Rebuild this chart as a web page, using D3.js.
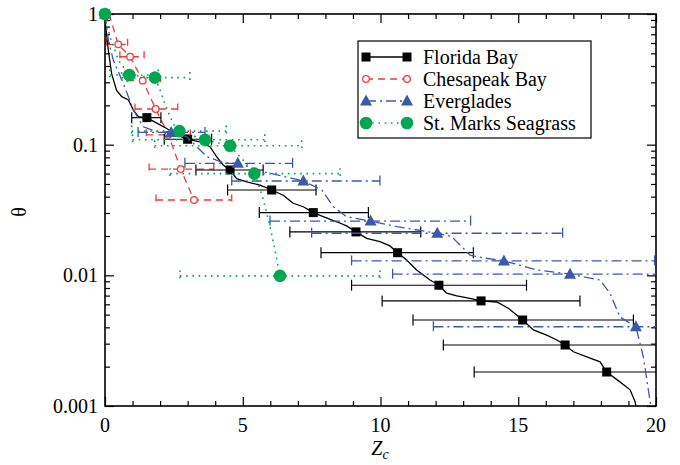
<!DOCTYPE html>
<html>
<head>
<meta charset="utf-8">
<script src="https://cdn.jsdelivr.net/npm/d3@7"></script>
<style>
  body { margin: 0; background: #fff; }
  svg text { font-family: "Liberation Serif", "Times New Roman", Times, serif; }
</style>
</head>
<body>
<svg width="680" height="465" font-family="Liberation Serif, Times New Roman, serif"></svg>
<script>
// axis ticks
const xMajor      = [0, 5, 10, 15, 20],
      yMajor      = [0.001, 0.01, 0.1, 1],
      yMajorText  = ["0.001", "0.01", "0.1", "1"];

// Florida Bay: the curve and the squares with their Zc ranges
const floridaCurveZ     = [0, 0, 0.12, 0.24, 0.42, 0.61, 0.85, 1.03, 1.21, 1.52, 1.88, 2.24, 2.60, 3.00, 3.45, 3.81, 4.05, 4.29, 4.54, 4.78, 5.14, 5.63, 6.05, 6.47, 6.83, 7.20, 7.56, 7.92, 8.41, 8.77, 9.11, 9.50, 9.98, 10.34, 10.62, 10.95, 11.31, 11.80, 12.12, 12.40, 12.77, 13.25, 13.65, 14.22, 14.64, 14.94, 15.16, 15.55, 16.03, 16.40, 16.70, 17.00, 17.49, 17.97, 18.21, 18.69, 19.06, 19.24, 19.27],
      floridaCurveTheta = [1, 0.90, 0.53, 0.35, 0.26, 0.233, 0.22, 0.184, 0.164, 0.161, 0.146, 0.133, 0.119, 0.110, 0.105, 0.0965, 0.081, 0.070, 0.064, 0.055, 0.052, 0.049, 0.045, 0.041, 0.0356, 0.0335, 0.0302, 0.0281, 0.0257, 0.0239, 0.0215, 0.0192, 0.0181, 0.0168, 0.0149, 0.0131, 0.011, 0.0092, 0.0084, 0.0073, 0.00695, 0.00667, 0.00637, 0.00625, 0.0056, 0.00497, 0.00455, 0.00382, 0.00349, 0.0032, 0.00293, 0.0026, 0.00238, 0.00218, 0.00182, 0.00153, 0.00133, 0.00108, 0.001],
      floridaZ          = [1.52, 3.00, 4.54, 6.05, 7.56, 9.11, 10.62, 12.12, 13.65, 15.16, 16.70, 18.21],
      floridaTheta      = [0.161, 0.110, 0.064, 0.045, 0.0302, 0.0215, 0.0149, 0.0084, 0.00637, 0.00455, 0.00293, 0.00182],
      floridaLo         = [0.97, 2.15, 3.30, 4.45, 5.60, 6.71, 7.84, 8.95, 10.06, 11.18, 12.28, 13.40],
      floridaHi         = [2.03, 3.87, 5.74, 7.66, 9.56, 11.46, 13.37, 15.30, 17.24, 19.18, 21.1, 23.0];

// Chesapeak Bay
const chesLineZ     = [0.15, 0.48, 0.91, 1.37, 1.84, 2.30, 2.75, 3.23],
      chesLineTheta = [1, 0.586, 0.471, 0.309, 0.1875, 0.119, 0.065, 0.0377],
      chesZ         = [0.48, 0.91, 1.37, 1.84, 2.30, 2.75, 3.23],
      chesTheta     = [0.586, 0.471, 0.309, 0.1875, 0.119, 0.065, 0.0377],
      chesLo        = [0.06, 0.54, 0.80, 1.09, 1.50, 1.60, 1.85],
      chesHi        = [0.82, 1.42, 2.02, 2.64, 3.10, 3.95, 4.60];

// Everglades
const evergLineZ     = [0, 0.12, 0.30, 0.61, 0.85, 1.03, 1.39, 1.88, 2.40, 2.97, 3.33, 3.69, 4.29, 4.82, 5.75, 7.20, 7.87, 8.29, 8.77, 9.64, 10.59, 12.06, 12.58, 13.25, 13.73, 14.48, 15.67, 16.88, 17.97, 18.33, 18.69, 19.27, 19.54, 19.78, 19.82],
      evergLineTheta = [1, 0.632, 0.445, 0.313, 0.233, 0.184, 0.137, 0.126, 0.124, 0.115, 0.0965, 0.081, 0.0728, 0.072, 0.062, 0.0527, 0.045, 0.0335, 0.0281, 0.026, 0.0236, 0.021, 0.0198, 0.0143, 0.0136, 0.0129, 0.011, 0.0102, 0.0092, 0.0073, 0.0048, 0.00404, 0.00238, 0.00111, 0.001],
      evergZ         = [2.40, 4.82, 7.20, 9.64, 12.06, 14.48, 16.88, 19.27],
      evergTheta     = [0.124, 0.072, 0.0527, 0.026, 0.021, 0.0129, 0.0102, 0.00404],
      evergLo        = [1.20, 2.90, 4.60, 5.99, 7.50, 8.95, 10.44, 11.92],
      evergHi        = [3.63, 6.81, 9.98, 13.27, 16.61, 19.95, 21.0, 21.0];

// St. Marks Seagrass
const marksLineZ     = [0, 0.18, 0.36, 0.48, 0.88, 1.81, 2.00, 2.12, 2.36, 2.54, 2.70, 3.63, 4.54, 4.78, 5.02, 5.42, 5.56, 5.75, 5.99, 6.17, 6.35],
      marksLineTheta = [1, 0.67, 0.53, 0.445, 0.341, 0.326, 0.262, 0.22, 0.164, 0.137, 0.127, 0.109, 0.098, 0.086, 0.076, 0.060, 0.0506, 0.0377, 0.0236, 0.0156, 0.0099],
      marksZ         = [0.88, 1.81, 2.70, 3.63, 4.54, 5.42, 6.35],
      marksTheta     = [0.341, 0.326, 0.127, 0.109, 0.098, 0.060, 0.0099],
      marksLo        = [0.18, 0.60, 0.97, 1.00, 1.80, 2.36, 2.72],
      marksHi        = [1.93, 3.08, 4.40, 5.80, 7.14, 8.53, 9.98];

const legendNames = ["Florida Bay", "Chesapeak  Bay", "Everglades", "St. Marks Seagrass"];

const SERIF = "Liberation Serif, Times New Roman, serif";


let svg    = d3.select("svg"),
    x      = d3.scaleLinear().domain([0, 20]).range([105, 656]),
    y      = d3.scaleLog().domain([0.001, 1]).range([406, 14]),
    zip    = (a, b) => a.map((d, i) => [d, b[i]]),
    series = [
      { name: legendNames[1], color: "#ee3b3b", dash: "7,5", width: 1.3,
        line: zip(chesLineZ, chesLineTheta),
        pts: chesZ.map((d, i) => ({z: d, t: chesTheta[i], lo: chesLo[i], hi: chesHi[i]})),
        marker: "ocircle" },
      { name: legendNames[0], color: "#000", dash: null, width: 1.3,
        line: zip(floridaCurveZ, floridaCurveTheta),
        pts: floridaZ.map((d, i) => ({z: d, t: floridaTheta[i], lo: floridaLo[i], hi: floridaHi[i]})),
        marker: "square" },
      { name: legendNames[2], color: "#3c58aa", dash: "10,4,2,4", width: 1.3,
        line: zip(evergLineZ, evergLineTheta),
        pts: evergZ.map((d, i) => ({z: d, t: evergTheta[i], lo: evergLo[i], hi: evergHi[i]})),
        marker: "triangle" },
      { name: legendNames[3], color: "#00a650", dash: "1.6,4.6", width: 1.6,
        line: zip(marksLineZ, marksLineTheta),
        pts: marksZ.map((d, i) => ({z: d, t: marksTheta[i], lo: marksLo[i], hi: marksHi[i]})),
        marker: "circle" }
    ];

svg.append("defs").append("clipPath")
    .attr("id", "plotclip")
  .append("rect")
    .attr("x", 105).attr("y", 14)
    .attr("width", 551).attr("height", 392);

drawAxes();

let gData = svg.append("g").attr("clip-path", "url(#plotclip)");
series.forEach(s => drawSeries(gData, s));

// the point at (0, 1) where every series starts
series.forEach(s => addMarker(svg, s, x(0), y(1)));

drawLegend();


function addMarker(g, s, cx, cy) {
  if (s.marker === "square") {
    g.append("rect")
      .attr("x", cx - 4.5).attr("y", cy - 4.5)
      .attr("width", 9).attr("height", 9)
      .attr("fill", "#000");
  } else if (s.marker === "triangle") {
    g.append("path")
      .attr("d", `M${cx},${cy - 6.5}L${cx + 6},${cy + 4.5}L${cx - 6},${cy + 4.5}Z`)
      .attr("fill", s.color);
  } else if (s.marker === "circle") {
    g.append("circle")
      .attr("cx", cx).attr("cy", cy).attr("r", 6.3)
      .attr("fill", s.color);
  } else {
    g.append("circle")
      .attr("cx", cx).attr("cy", cy).attr("r", 3.3)
      .attr("fill", "#fff")
      .attr("stroke", s.color)
      .attr("stroke-width", 1.3);
  }
}


function drawSeries(g, s) {
  let line = d3.line().x(d => x(d[0])).y(d => y(d[1]));

  g.append("path")
    .datum(s.line)
    .attr("d", line)
    .attr("fill", "none")
    .attr("stroke", s.color)
    .attr("stroke-width", s.width)
    .attr("stroke-dasharray", s.dash);

  let bars = g.append("g")
    .attr("stroke", s.color)
    .attr("stroke-width", s.color === "#000" ? 1.2 : s.width)
    .attr("stroke-dasharray", s.dash);

  bars.selectAll(".bar")
    .data(s.pts)
    .enter().append("line")
      .attr("class", "bar")
      .attr("x1", d => x(d.lo))
      .attr("x2", d => x(d.hi))
      .attr("y1", d => y(d.t))
      .attr("y2", d => y(d.t));

  ["lo", "hi"].forEach(k => {
    bars.selectAll(".cap-" + k)
      .data(s.pts)
      .enter().append("line")
        .attr("class", "cap-" + k)
        .attr("x1", d => x(d[k]))
        .attr("x2", d => x(d[k]))
        .attr("y1", d => y(d.t) - 5.5)
        .attr("y2", d => y(d.t) + 5.5)
        .attr("stroke-dasharray", null);
  });

  s.pts.forEach(d => addMarker(g, s, x(d.z), y(d.t)));
}


function drawAxes() {
  let minorX = d3.range(0, 21).filter(d => d % 5 !== 0),
      minorY = [];
  [0.001, 0.01, 0.1].forEach(p => d3.range(2, 10).forEach(m => minorY.push(p * m)));

  let axes = [
    [d3.axisBottom(x), "translate(0,406)", xMajor, minorX],
    [d3.axisTop(x),    "translate(0,14)",  xMajor, minorX],
    [d3.axisLeft(y),   "translate(105,0)", yMajor, minorY],
    [d3.axisRight(y),  "translate(656,0)", yMajor, minorY]
  ];

  axes.forEach(([ax, tr, major, minor]) => {
    svg.append("g")
      .attr("transform", tr)
      .call(ax.tickValues(minor).tickSize(-5).tickFormat(""))
      .call(g => g.select(".domain").remove());
    svg.append("g")
      .attr("class", "major")
      .attr("transform", tr)
      .call(ax.tickValues(major).tickSize(-9).tickFormat(""))
      .call(g => g.select(".domain").remove());
  });
  svg.selectAll(".tick line").attr("stroke", "#000").attr("stroke-width", 1.2);

  svg.append("rect")
    .attr("x", 105).attr("y", 14)
    .attr("width", 551).attr("height", 392)
    .attr("fill", "none")
    .attr("stroke", "#000")
    .attr("stroke-width", 1.6);

  svg.append("g").selectAll("text")
    .data(xMajor)
    .enter().append("text")
      .attr("x", d => x(d))
      .attr("y", 432)
      .attr("text-anchor", "middle")
      .attr("font-family", SERIF)
      .attr("font-size", 20)
      .text(d => d);

  svg.append("g").selectAll("text")
    .data(yMajor)
    .enter().append("text")
      .attr("x", 98)
      .attr("y", d => y(d) + 7)
      .attr("text-anchor", "end")
      .attr("font-family", SERIF)
      .attr("font-size", 20)
      .text((d, i) => yMajorText[i]);

  let zlabel = svg.append("text")
    .attr("x", 380).attr("y", 455)
    .attr("text-anchor", "middle")
    .attr("font-family", SERIF)
    .attr("font-size", 20)
    .attr("font-style", "italic");
  zlabel.append("tspan").text("Z");
  zlabel.append("tspan").attr("font-size", 14).attr("dy", 4).text("c");

  svg.append("text")
    .attr("transform", "translate(26,212) rotate(-90)")
    .attr("text-anchor", "middle")
    .attr("font-family", SERIF)
    .attr("font-size", 20)
    .text("θ");
}


function drawLegend() {
  let lg = svg.append("g");

  lg.append("rect")
    .attr("x", 358).attr("y", 41)
    .attr("width", 233).attr("height", 97)
    .attr("fill", "#fff")
    .attr("stroke", "#000")
    .attr("stroke-width", 1.2);

  let order = [1, 0, 2, 3];
  order.forEach((si, i) => {
    let s  = series[si],
        yy = 57 + i * 22;
    lg.append("line")
      .attr("x1", 366).attr("x2", 407)
      .attr("y1", yy).attr("y2", yy)
      .attr("stroke", s.color)
      .attr("stroke-width", s.width)
      .attr("stroke-dasharray", s.dash);
    addMarker(lg, s, 366, yy);
    addMarker(lg, s, 407, yy);
    lg.append("text")
      .attr("x", 423).attr("y", yy + 6.5)
      .attr("font-family", SERIF)
      .attr("font-size", 20)
      .text(s.name);
  });
}
</script>
</body>
</html>
